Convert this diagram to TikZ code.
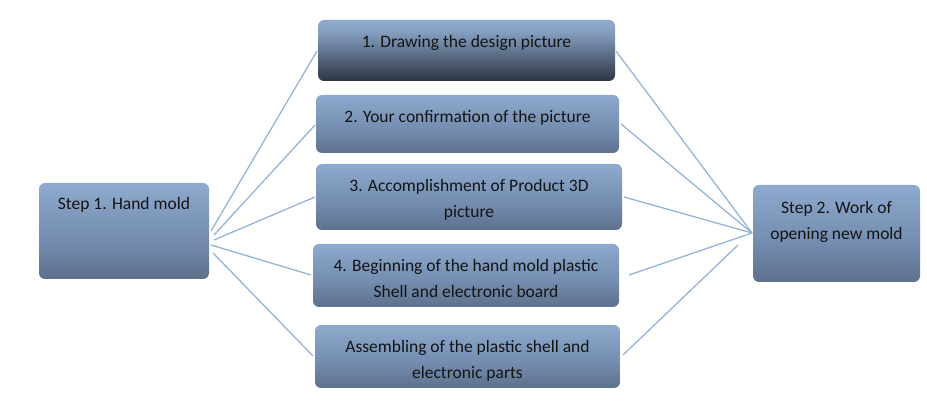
\documentclass[tikz,border=0pt]{standalone}
\usepackage{fontspec}
\setmainfont{Carlito}
\definecolor{lnblue}{RGB}{150,180,214}
\definecolor{txtc}{RGB}{20,20,20}
\pgfdeclareverticalshading{boxshade}{100bp}{rgb(0bp)=(0.294,0.345,0.431); rgb(10bp)=(0.306,0.361,0.451); rgb(45bp)=(0.451,0.549,0.686); rgb(80bp)=(0.573,0.686,0.827); rgb(100bp)=(0.592,0.710,0.847)}
\pgfdeclareverticalshading{darkshade}{100bp}{rgb(0bp)=(0.035,0.040,0.050); rgb(12bp)=(0.070,0.082,0.100); rgb(35bp)=(0.260,0.310,0.380); rgb(65bp)=(0.520,0.620,0.750); rgb(80bp)=(0.575,0.688,0.827); rgb(100bp)=(0.596,0.710,0.847)}
\begin{document}
\begin{tikzpicture}[x=1pt,y=-1pt,
  boxstyle/.style={rounded corners=6pt, shading=boxshade},
  darkbox/.style={rounded corners=6pt, shading=darkshade},
  txt/.style={anchor=north, inner sep=0pt, align=center, text=txtc, font=\fontsize{17.5}{26}\selectfont},
  conn/.style={draw=lnblue, line width=1.3pt}]
\useasboundingbox (0,0) rectangle (927,419);
% boxes
\path[boxstyle] (39,183) rectangle (209,279);
\path[boxstyle] (753,185) rectangle (920,282);
\path[darkbox] (318,20) rectangle (615,81);
\path[boxstyle] (316,95) rectangle (619,153);
\path[boxstyle] (316,164) rectangle (622,230);
\path[boxstyle] (313,244) rectangle (619,307);
\path[boxstyle] (315,325) rectangle (620,388);
% named anchors
\coordinate (L) at (124,183);
\coordinate (R) at (836.5,185);
\coordinate (B1) at (466.5,20);
\coordinate (B2) at (467.5,95);
\coordinate (B3) at (469,164);
\coordinate (B4) at (466,244);
\coordinate (B5) at (467.5,325);
% texts
\node[txt] (tL) at ([yshift=-14pt]L) {Step 1. Hand mold};
\node[txt] (tR) at ([yshift=-16pt]R) {Step 2. Work of\\opening new mold};
\node[txt] (t1) at ([yshift=-15pt]B1) {1. Drawing the design picture};
\node[txt] (t2) at ([yshift=-15pt]B2) {2. Your confirmation of the picture};
\node[txt] (t3) at ([yshift=-15pt]B3) {3. Accomplishment of Product 3D\\picture};
\node[txt] (t4) at ([yshift=-15pt]B4) {4. Beginning of the hand mold plastic\\Shell and electronic board};
\node[txt] (t5) at ([yshift=-15pt]B5) {Assembling of the plastic shell and\\electronic parts};
% connector end points
\coordinate (la1) at (211,231); \coordinate (lb1) at (317,51);
\coordinate (la2) at (214,235); \coordinate (lb2) at (315,125);
\coordinate (la3) at (214,240); \coordinate (lb3) at (315,197);
\coordinate (la4) at (211,245); \coordinate (lb4) at (311,275);
\coordinate (la5) at (213,253); \coordinate (lb5) at (313,356);
\coordinate (rc) at (752,233);
\coordinate (ra1) at (616,51);
\coordinate (ra2) at (621,124);
\coordinate (ra3) at (624,197);
\coordinate (ra4) at (629,275);
\coordinate (ra5) at (623,355); \coordinate (rb5) at (738,245);
\draw[conn] (la1) -- (lb1);
\draw[conn] (la2) -- (lb2);
\draw[conn] (la3) -- (lb3);
\draw[conn] (la4) -- (lb4);
\draw[conn] (la5) -- (lb5);
\draw[conn] (ra1) -- (rc);
\draw[conn] (ra2) -- (rc);
\draw[conn] (ra3) -- (rc);
\draw[conn] (ra4) -- (rc);
\draw[conn] (ra5) -- (rb5);
\end{tikzpicture}
\end{document}
